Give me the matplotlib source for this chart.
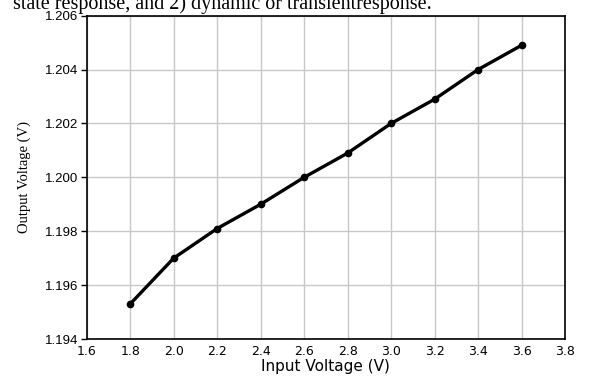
import matplotlib.pyplot as plt
import numpy as np

input_voltage = [1.8, 2.0, 2.2, 2.4, 2.6, 2.8, 3.0, 3.2, 3.4, 3.6]
output_voltage = [1.1953, 1.1970, 1.1981, 1.1990, 1.2000, 1.2009, 1.2020, 1.2029, 1.2040, 1.2049]
x_ticks = [1.6, 1.8, 2.0, 2.2, 2.4, 2.6, 2.8, 3.0, 3.2, 3.4, 3.6, 3.8]
y_ticks = [1.194, 1.196, 1.198, 1.200, 1.202, 1.204, 1.206]

fig = plt.figure(figsize=(6.06, 3.76), dpi=100)
ax = fig.add_axes([86.7 / 606, 1 - 339 / 376, (565 - 86.7) / 606, (339 - 15.7) / 376])

ax.plot(input_voltage, output_voltage, color='black', linewidth=2.4,
        marker='o', markersize=4.5, zorder=3)

ax.set_xlim(1.6, 3.8)
ax.set_ylim(1.194, 1.206)
ax.set_xticks(x_ticks)
ax.set_yticks(y_ticks)
ax.set_xticklabels([f'{v:.1f}' for v in x_ticks], family='DejaVu Sans', fontsize=9)
ax.set_yticklabels([f'{v:.3f}' for v in y_ticks], family='Liberation Sans', fontsize=9.5)
ax.tick_params(axis='x', length=0, pad=4)
ax.tick_params(axis='y', length=4, width=1, direction='out', pad=2)
ax.grid(True, color='#c8c8c8', linewidth=1)
for s in ax.spines.values():
    s.set_linewidth(1.2)

ax.set_xlabel('Input Voltage (V)', family='DejaVu Sans', fontsize=11, labelpad=1)
ax.set_ylabel('Output Voltage (V)', family='Liberation Serif', fontsize=10.5, labelpad=10)

# caption text from the page, cut at the top
fig.text(13 / 606, 1 - 9 / 376, 'state response, and 2) dynamic or transientresponse.',
         family='Liberation Serif', fontsize=14.5, va='baseline', ha='left')

fig.savefig('out.png', dpi=100)
